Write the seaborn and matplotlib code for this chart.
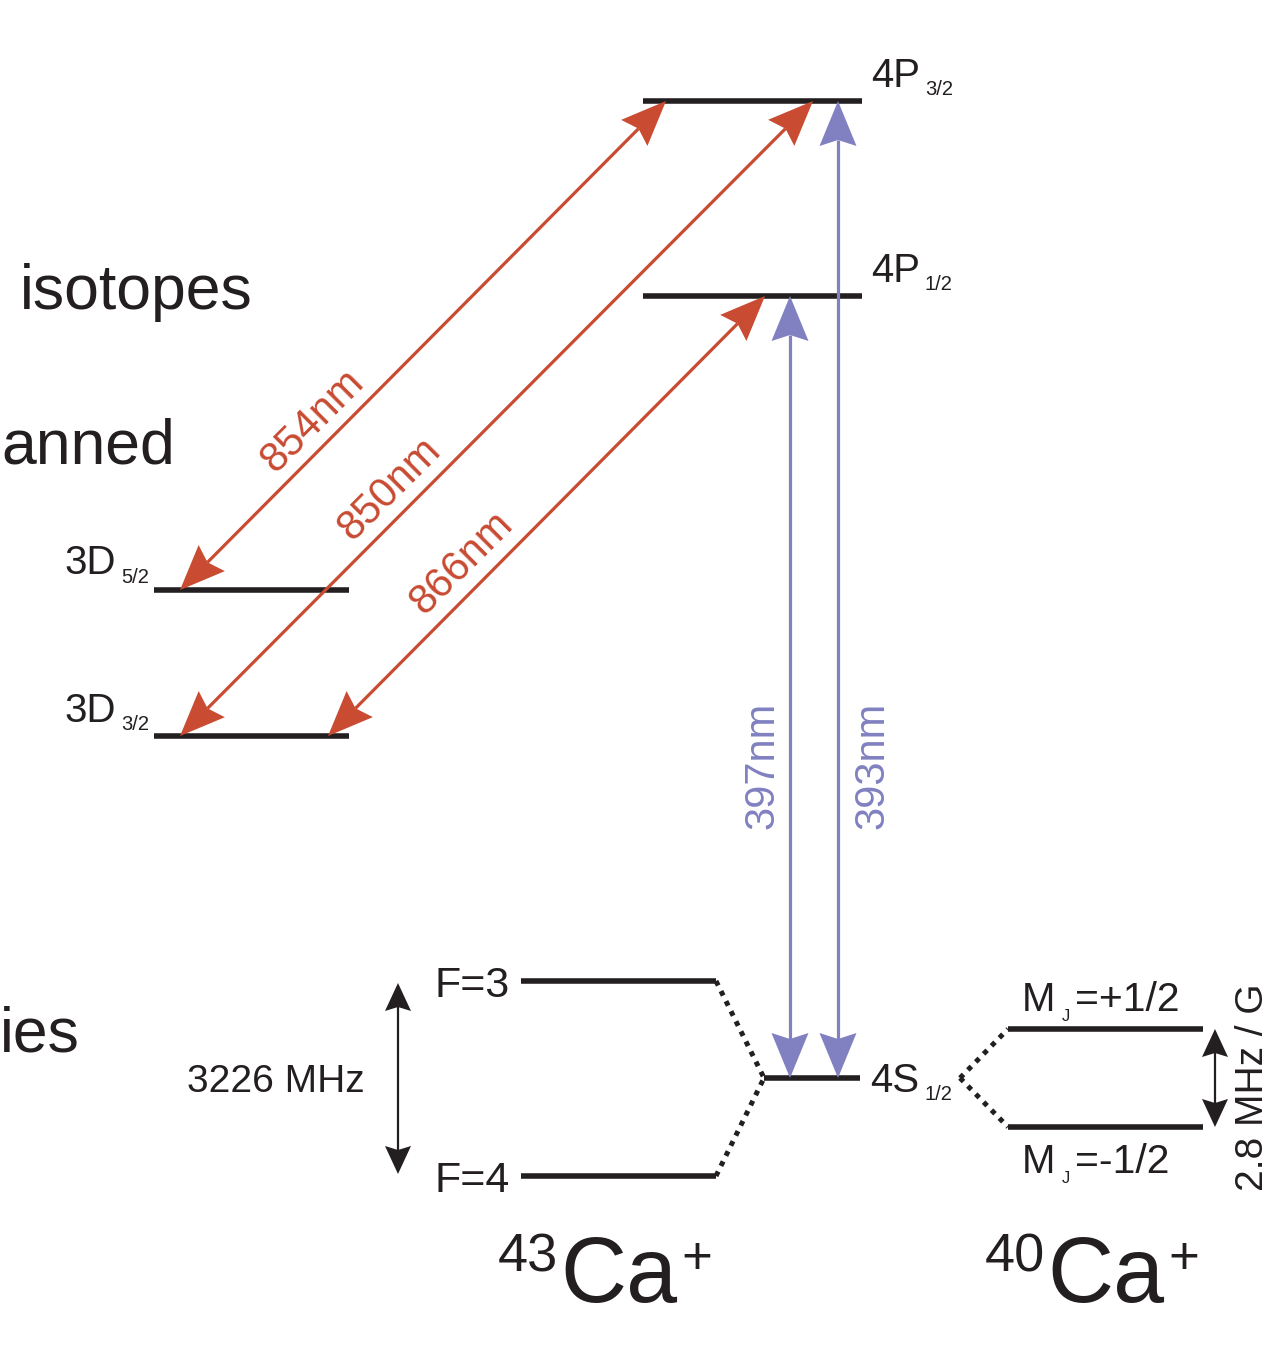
import numpy as np
import pandas as pd
import matplotlib
matplotlib.use('Agg')
import matplotlib.pyplot as plt
import seaborn as sns

# ---------------- data ----------------
level_names = ['4P3/2', '4P1/2', '3D5/2', '3D3/2', '4S1/2', 'F=3', 'F=4', 'MJ=+1/2', 'MJ=-1/2']
level_energy = [101, 296, 590, 736, 1078, 981, 1176, 1029, 1127]
level_x_start = [643, 643, 154, 154, 764, 521, 521, 1008, 1008]
level_x_end = [862, 862, 349, 349, 860, 716, 716, 1203, 1203]

transition_labels = ['854nm', '850nm', '866nm', '397nm', '393nm']
transition_lower = ['3D5/2', '3D3/2', '3D3/2', '4S1/2', '4S1/2']
transition_upper = ['4P3/2', '4P3/2', '4P1/2', '4P1/2', '4P3/2']
transition_x_lower = [180, 180, 328, 790, 838]
transition_x_upper = [666, 813, 765, 790, 838]
transition_band = ['IR', 'IR', 'IR', 'UV', 'UV']

splitting_labels = ['3226 MHz', '2.8 MHz / G']
splitting_lower = ['F=3', 'MJ=+1/2']
splitting_upper = ['F=4', 'MJ=-1/2']
splitting_x = [398, 1215]

isotope_mass = ['43', '40']
side_words = ['isotopes', 'anned', 'ies']

# ---------------- style ----------------
sns.set_theme(style='white')
plt.rcParams['font.family'] = ['Liberation Sans', 'DejaVu Sans']

BLACK = '#231F20'
band_color = {'IR': '#C84B32', 'UV': '#8181C1'}

W, H = 1270, 1350
fig = plt.figure(figsize=(W / 100, H / 100), dpi=100)
ax = fig.add_axes([0, 0, 1, 1])

lv = pd.DataFrame({'name': level_names, 'E': level_energy,
                   'x0': level_x_start, 'x1': level_x_end}).set_index('name')

# level lines via seaborn
rows = []
for n in level_names:
    rows.append({'level': n, 'x': lv.loc[n, 'x0'], 'y': lv.loc[n, 'E']})
    rows.append({'level': n, 'x': lv.loc[n, 'x1'], 'y': lv.loc[n, 'E']})
df_levels = pd.DataFrame(rows)
sns.lineplot(data=df_levels, x='x', y='y', units='level', estimator=None,
             color=BLACK, lw=4.0, sort=False, ax=ax, solid_capstyle='butt')

# dotted connectors (hyperfine / Zeeman splitting)
conn_rows = []
s = '4S1/2'
for i, n in enumerate(['F=3', 'F=4']):
    conn_rows += [{'c': f'a{i}', 'x': lv.loc[n, 'x1'], 'y': lv.loc[n, 'E']},
                  {'c': f'a{i}', 'x': lv.loc[s, 'x0'], 'y': lv.loc[s, 'E']}]
for i, n in enumerate(['MJ=+1/2', 'MJ=-1/2']):
    conn_rows += [{'c': f'b{i}', 'x': 960, 'y': lv.loc[s, 'E']},
                  {'c': f'b{i}', 'x': lv.loc[n, 'x0'], 'y': lv.loc[n, 'E']}]
df_conn = pd.DataFrame(conn_rows)
for c, g in df_conn.groupby('c'):
    ax.plot(g['x'], g['y'], color=BLACK, lw=3.6, linestyle=(0, (1, 1.25)),
            dash_capstyle='butt')


def head(tip, u, L, hw, notch, color):
    n = np.array([-u[1], u[0]])
    pts = np.array([tip, tip - L * u + hw * n, tip - (L - notch) * u,
                    tip - L * u - hw * n])
    ax.fill(pts[:, 0], pts[:, 1], color=color, lw=0, zorder=4)


def double_arrow(p0, p1, color, lw, L, hw, notch):
    p0 = np.array(p0, float)
    p1 = np.array(p1, float)
    u = (p1 - p0) / np.linalg.norm(p1 - p0)
    a = p0 + (L - notch) * u
    b = p1 - (L - notch) * u
    ax.plot([a[0], b[0]], [a[1], b[1]], color=color, lw=lw,
            solid_capstyle='butt', zorder=3)
    head(p1, u, L, hw, notch, color)
    head(p0, -u, L, hw, notch, color)


# transitions
label_layout = {  # fraction along arrow from lower end, perpendicular offset
    '854nm': (0.31, 25), '850nm': (0.36, 26), '866nm': (0.35, 27),
    '397nm': (0.40, 28), '393nm': (0.32, -34)}
for lab, lo, up, xl, xu, band in zip(transition_labels, transition_lower,
                                      transition_upper, transition_x_lower,
                                      transition_x_upper, transition_band):
    col = band_color[band]
    p0 = np.array([xl, lv.loc[lo, 'E']], float)
    p1 = np.array([xu, lv.loc[up, 'E']], float)
    double_arrow(p0, p1, col, 2.3, 45, 18.5, 6)
    f, off = label_layout[lab]
    u = (p1 - p0) / np.linalg.norm(p1 - p0)
    nrm = np.array([u[1], -u[0]])  # left side of upward direction on screen
    pos = p0 + f * np.linalg.norm(p1 - p0) * u + off * nrm
    rot = 45 if band == 'IR' else 90
    ax.text(pos[0], pos[1], lab, color=col, fontsize=30, rotation=rot,
            rotation_mode='anchor', ha='center', va='center')

# splitting arrows
for lab, lo, up, x in zip(splitting_labels, splitting_lower, splitting_upper, splitting_x):
    y0 = lv.loc[lo, 'E']
    y1 = lv.loc[up, 'E']
    if x < 600:
        y0, y1 = y0 + 2, y1 - 2
    double_arrow((x, y0), (x, y1), BLACK, 1.6, 28, 13, 4)

ax.text(187, 1092, splitting_labels[0], fontsize=28, color=BLACK, ha='left', va='baseline')
ax.text(1253, 1087, splitting_labels[1], fontsize=28, color=BLACK, rotation=90,
        ha='center', va='center')

# level labels
def lab(x, y, txt, size):
    ax.text(x, y, txt, fontsize=size, color=BLACK, ha='left', va='baseline')

lab(871, 87, '4P', 29); lab(925, 95, '3/2', 14.5)
lab(871, 282, '4P', 29); lab(925, 290, '1/2', 14.5)
lab(64, 574, '3D', 29); lab(121, 583, '5/2', 14.5)
lab(64, 722, '3D', 29); lab(121, 730, '3/2', 14.5)
lab(870, 1092, '4S', 29); lab(924, 1100, '1/2', 14.5)
lab(435, 997, 'F=3', 31)
lab(435, 1192, 'F=4', 31)
lab(1022, 1011, 'M', 29); lab(1062, 1021, 'J', 12); lab(1075, 1011, '=+1/2', 29.5)
lab(1022, 1173, 'M', 29); lab(1062, 1183, 'J', 12); lab(1075, 1173, '=-1/2', 29.5)

# isotope names
for mass, xc in zip(isotope_mass, [560, 1047]):
    ax.text(xc - 2, 1271, mass, fontsize=39, color=BLACK, ha='right', va='baseline')
    ax.text(xc, 1302, 'Ca', fontsize=66, color=BLACK, ha='left', va='baseline')
    ax.text(xc + 121, 1274, '+', fontsize=38, color=BLACK, ha='left', va='baseline')

# cropped words at the left edge
ax.text(20, 309, side_words[0], fontsize=45, color=BLACK, ha='left', va='baseline')
ax.text(175, 463, side_words[1], fontsize=45, color=BLACK, ha='right', va='baseline')
ax.text(0, 1052, side_words[2], fontsize=45, color=BLACK, ha='left', va='baseline')

ax.set_xlim(0, W)
ax.set_ylim(H, 0)
ax.axis('off')
fig.savefig('out.png', dpi=100, facecolor='white')
